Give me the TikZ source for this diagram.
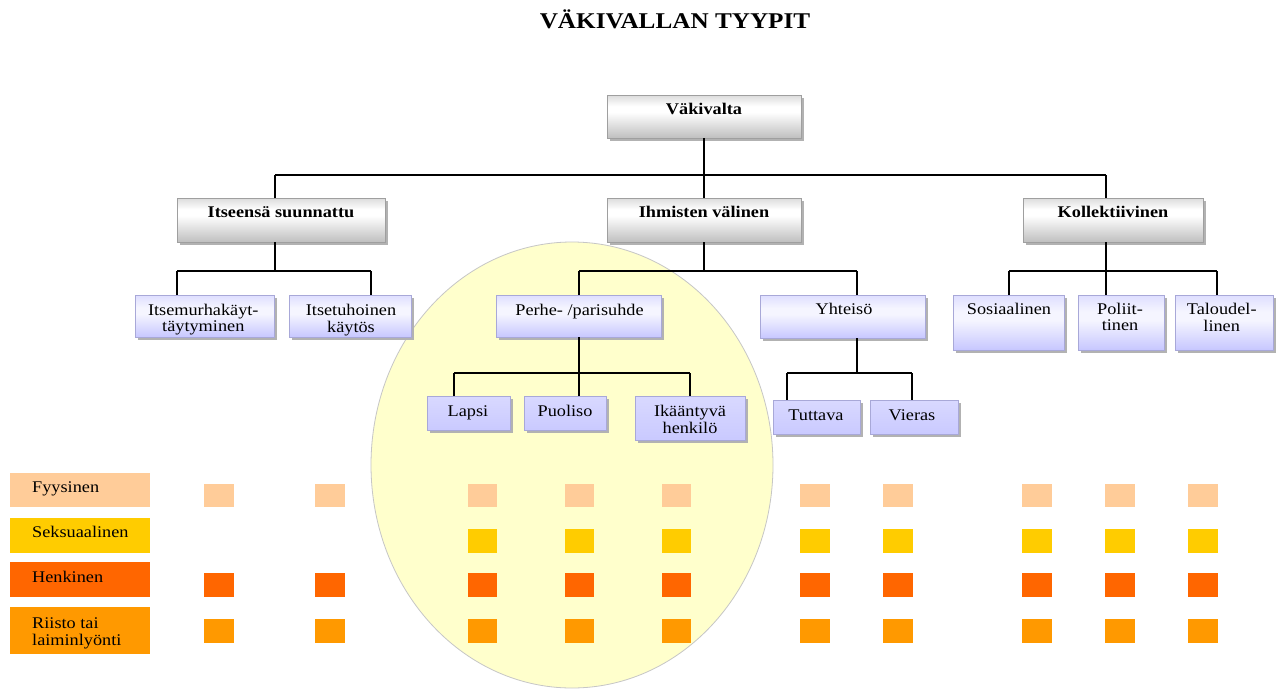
\documentclass[tikz,border=0pt]{standalone}
\usepackage{fontspec}
\setmainfont{Liberation Serif}[FakeStretch=1.12]
\usetikzlibrary{shadows,shapes.geometric}
\definecolor{cfys}{HTML}{FFCC99}
\definecolor{csek}{HTML}{FFCC00}
\definecolor{chen}{HTML}{FF6600}
\definecolor{crii}{HTML}{FF9900}
\definecolor{ellfill}{HTML}{FFFFCC}
\definecolor{lavborder}{HTML}{A8A8D8}
\pgfdeclareverticalshading{gshade}{100bp}{color(0bp)=(gray!50); color(25bp)=(gray!50); color(55bp)=(white); color(62bp)=(white); color(75bp)=(gray!28); color(100bp)=(gray!28)}
\pgfdeclareverticalshading{lshade}{100bp}{color(0bp)=(blue!20!white); color(25bp)=(blue!22!white); color(52bp)=(blue!4!white); color(60bp)=(blue!4!white); color(75bp)=(blue!13!white); color(100bp)=(blue!13!white)}
\pgfdeclareverticalshading{sshade}{100bp}{color(0bp)=(blue!21!white); color(25bp)=(blue!21!white); color(75bp)=(blue!15!white); color(100bp)=(blue!15!white)}
\newcommand{\bxfont}{\fontsize{16.3}{16}\selectfont}
\tikzset{
  conn/.style={draw=black, line width=1.2pt},
  shad/.style={drop shadow={shadow xshift=3pt, shadow yshift=-3pt, fill=gray!60, opacity=1}},
  gbox/.style={shad, shade, shading=gshade, draw=gray!75, line width=0.6pt, inner sep=0pt, minimum height=44pt},
  lbox/.style={shad, shade, shading=lshade, draw=lavborder, line width=0.5pt, inner sep=0pt},
  sbox/.style={shad, shade, shading=sshade, draw=lavborder, line width=0.5pt, inner sep=0pt},
  boxtext/.style={anchor=north, inner sep=0pt, align=center, font=\bxfont},
  legbox/.style={draw=none, inner sep=0pt, minimum width=140pt},
  legtext/.style={anchor=north west, inner sep=0pt, align=left, font=\bxfont},
  sq/.style={draw=none, inner sep=0pt, minimum width=29.3pt, minimum height=23.5pt},
}
\begin{document}
\begin{tikzpicture}[x=1pt, y=-1pt]
\useasboundingbox[fill=white] (0,0) rectangle (1279,688);

% title
\node[anchor=base, inner sep=0pt, font=\bfseries\fontsize{22.5}{26}\selectfont] (title) at (675,28.3) {VÄKIVALLAN TYYPIT};

% background ellipse
\node[ellipse, draw=gray!45, line width=0.8pt, fill=ellfill, inner sep=0pt, minimum width=402pt, minimum height=446pt] (circ) at (572,465) {};

% connector junctions
\coordinate (j0) at (704,175);
\coordinate (j0a) at (275,175);
\coordinate (j0c) at (1106,175);
\coordinate (j1) at (275,271);
\coordinate (j1a) at (177,271);
\coordinate (j1b) at (371,271);
\coordinate (j2) at (704,271);
\coordinate (j2a) at (579,271);
\coordinate (j2b) at (857,271);
\coordinate (j3) at (1106,271);
\coordinate (j3a) at (1009,271);
\coordinate (j3b) at (1217,271);
\coordinate (j4) at (579,373);
\coordinate (j4a) at (454,373);
\coordinate (j4b) at (690,373);
\coordinate (j5) at (857,373);
\coordinate (j5a) at (787,373);
\coordinate (j5b) at (912,373);

% boxes (positions)
\node[gbox, minimum width=194pt, minimum height=43pt] (vak) at (704,116.5) {};
\node[gbox, minimum width=208pt] (its) at (281,220) {};
\node[gbox, minimum width=194pt] (ihm) at (704,220) {};
\node[gbox, minimum width=180pt] (kol) at (1113,220) {};

\node[lbox, minimum width=139pt, minimum height=42pt] (ism) at (204.5,316) {};
\node[lbox, minimum width=122pt, minimum height=42pt] (itu) at (350,316) {};
\node[lbox, minimum width=165pt, minimum height=42pt] (per) at (578.5,316) {};
\node[lbox, minimum width=165pt, minimum height=43pt] (yht) at (842.5,316.5) {};
\node[lbox, minimum width=111pt, minimum height=55pt] (sos) at (1008.5,322.5) {};
\node[lbox, minimum width=86pt, minimum height=55pt] (pol) at (1121,322.5) {};
\node[lbox, minimum width=98pt, minimum height=55pt] (tal) at (1224,322.5) {};

\node[sbox, minimum width=83pt, minimum height=34pt] (lap) at (468.5,413) {};
\node[sbox, minimum width=82pt, minimum height=34pt] (puo) at (565,413) {};
\node[sbox, minimum width=110pt, minimum height=44pt] (ika) at (690,418) {};
\node[sbox, minimum width=87pt, minimum height=34pt] (tut) at (816.5,417) {};
\node[sbox, minimum width=88pt, minimum height=34pt] (vie) at (914,417) {};

% connectors
\begin{scope}[on background layer/.style={}]
\draw[conn] (vak.south) -- (j0);
\draw[conn] (j0a) -- (j0c);
\draw[conn] (j0a) -- (j0a |- its.north);
\draw[conn] (j0) -- (ihm.north);
\draw[conn] (j0c) -- (j0c |- kol.north);

\draw[conn] (j1 |- its.south) -- (j1);
\draw[conn] (j1a) -- (j1b);
\draw[conn] (j1a) -- (j1a |- ism.north);
\draw[conn] (j1b) -- (j1b |- itu.north);

\draw[conn] (ihm.south) -- (j2);
\draw[conn] (j2a) -- (j2b);
\draw[conn] (j2a) -- (j2a |- per.north);
\draw[conn] (j2b) -- (j2b |- yht.north);

\draw[conn] (j3 |- kol.south) -- (j3);
\draw[conn] (j3a) -- (j3b);
\draw[conn] (j3a) -- (j3a |- sos.north);
\draw[conn] (j3) -- (j3 |- pol.north);
\draw[conn] (j3b) -- (j3b |- tal.north);

\draw[conn] (j4 |- per.south) -- (j4);
\draw[conn] (j4a) -- (j4b);
\draw[conn] (j4a) -- (j4a |- lap.north);
\draw[conn] (j4) -- (j4 |- puo.north);
\draw[conn] (j4b) -- (j4b |- ika.north);

\draw[conn] (j5 |- yht.south) -- (j5);
\draw[conn] (j5a) -- (j5b);
\draw[conn] (j5a) -- (j5a |- tut.north);
\draw[conn] (j5b) -- (j5b |- vie.north);
\end{scope}

% box texts
\node[boxtext, font=\bxfont\bfseries] (vak-t) at (704,102.8) {\strut Väkivalta};
\node[boxtext, font=\bxfont\bfseries] (its-t) at (281,205.8) {\strut Itseensä suunnattu};
\node[boxtext, font=\bxfont\bfseries] (ihm-t) at (704,205.8) {\strut Ihmisten välinen};
\node[boxtext, font=\bxfont\bfseries] (kol-t) at (1113,205.8) {\strut Kollektiivinen};

\node[boxtext] (ism-t) at (203.3,303.8) {\strut Itsemurhakäyt-\\täytyminen};
\node[boxtext] (itu-t) at (351,303.8) {\strut Itsetuhoinen\\käytös};
\node[boxtext] (per-t) at (579.5,303.8) {\strut Perhe- /parisuhde};
\node[boxtext] (yht-t) at (844,302.8) {\strut Yhteisö};
\node[boxtext] (sos-t) at (1009,303.1) {\strut Sosiaalinen};
\node[boxtext] (pol-t) at (1120,303.1) {\strut Poliit-\\tinen};
\node[boxtext] (tal-t) at (1221.7,303.1) {\strut Taloudel-\\linen};

\node[boxtext] (lap-t) at (468,404.8) {\strut Lapsi};
\node[boxtext] (puo-t) at (565,404.8) {\strut Puoliso};
\node[boxtext] (ika-t) at (690,404.8) {\strut Ikääntyvä\\henkilö};
\node[boxtext] (tut-t) at (816,408.8) {\strut Tuttava};
\node[boxtext] (vie-t) at (912,408.8) {\strut Vieras};

% legend
\node[legbox, fill=cfys, minimum height=34.6pt] (lfys) at (80,490) {};
\node[legbox, fill=csek, minimum height=35pt] (lsek) at (80,535.2) {};
\node[legbox, fill=chen, minimum height=34.4pt] (lhen) at (80,579.5) {};
\node[legbox, fill=crii, minimum height=46.7pt] (lrii) at (80,630.7) {};
\node[legtext] (lfys-t) at (32,481.1) {\strut Fyysinen};
\node[legtext] (lsek-t) at (32,525.5) {\strut Seksuaalinen};
\node[legtext] (lhen-t) at (32,570.5) {\strut Henkinen};
\node[legtext, font=\fontsize{16.3}{16.7}\selectfont] (lrii-t) at (32,616.5) {\strut Riisto tai\\laiminlyönti};

% squares
\foreach \c/\x in {1/219,2/330,3/482.4,4/579.3,5/676.3,6/815,7/898,8/1037,9/1120,10/1203} {
  \node[sq, fill=cfys] (sq-\c-1) at (\x,495.7) {};
  \node[sq, fill=chen] (sq-\c-3) at (\x,585) {};
  \node[sq, fill=crii] (sq-\c-4) at (\x,630.9) {};
}
\foreach \c/\x in {3/482.4,4/579.3,5/676.3,6/815,7/898,8/1037,9/1120,10/1203} {
  \node[sq, fill=csek] (sq-\c-2) at (\x,540.9) {};
}
\end{tikzpicture}
\end{document}
